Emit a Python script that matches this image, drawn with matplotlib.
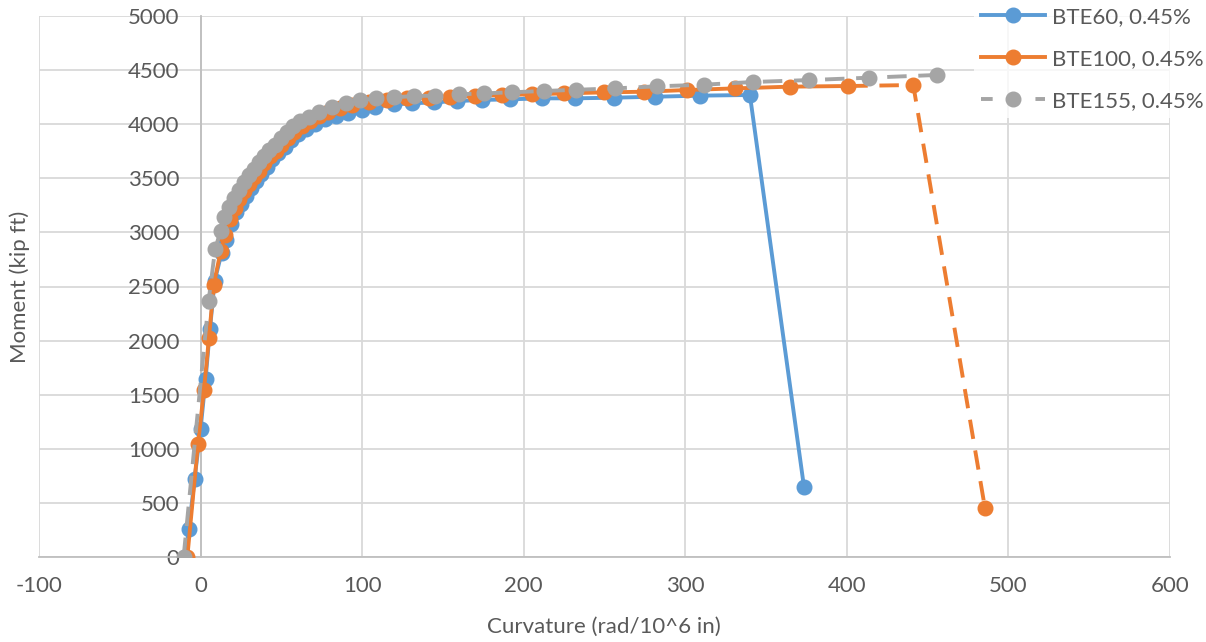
import matplotlib
matplotlib.use("Agg")
import matplotlib.pyplot as plt
from matplotlib.lines import Line2D

plt.rcParams['font.family'] = ['Lato', 'DejaVu Sans']
plt.rcParams['axes.unicode_minus'] = False

# --- data ---
bte60_x = [-9.5, -7.2, -3.7, 0.0, 3.1, 5.8, 8.7, 13.0, 16.0, 19.0, 22.0, 25.0, 28.0, 31.0, 34.0,
           37.5, 41.0, 44.5, 48.0, 52.0, 56.0, 60.5, 65.5, 71.0, 77.0, 84.0, 91.5, 100.0, 108.2,
           119.5, 131.0, 144.3, 158.7, 174.2, 191.7, 211.3, 231.5, 255.6, 281.4, 309.2, 340.0, 373.5]
bte60_y = [0, 261, 722, 1182, 1643, 2104, 2549, 2810, 2930, 3075, 3185, 3263, 3335, 3408, 3472,
           3540, 3608, 3675, 3730, 3788, 3850, 3910, 3960, 4005, 4045, 4080, 4105, 4128, 4162,
           4183, 4193, 4202, 4214, 4224, 4230, 4239, 4239, 4245, 4254, 4264, 4270, 644]

bte100_x = [-8.2, -1.6, 2.1, 5.2, 8.2, 12.4, 15.0, 18.0, 21.0, 24.0, 27.0, 30.0, 33.0, 36.0, 39.5,
            43.0, 46.5, 50.0, 54.0, 58.0, 62.5, 67.5, 73.0, 79.0, 86.0, 94.0, 104.0, 115.3, 127.8,
            141.2, 154.6, 170.0, 186.6, 205.0, 224.7, 249.5, 274.2, 301.0, 330.9, 364.9, 400.9,
            441.1, 485.5]
bte100_y = [0, 1044, 1542, 2027, 2518, 2826, 2980, 3125, 3230, 3305, 3380, 3450, 3512, 3572, 3638,
            3705, 3755, 3810, 3872, 3928, 3980, 4028, 4073, 4110, 4147, 4178, 4202, 4224, 4239,
            4245, 4254, 4260, 4270, 4276, 4285, 4294, 4300, 4316, 4331, 4347, 4353, 4362, 450]
bte100_dash_from = 40  # last two segments are dashed

bte155_x = [-10.5, 5.0, 9.0, 12.4, 14.8, 17.5, 20.6, 23.7, 26.8, 29.9, 33.0, 36.1, 39.1, 42.2,
            45.8, 49.5, 53.6, 57.5, 61.8, 67.0, 73.2, 81.4, 89.7, 98.9, 108.8, 119.5, 131.9, 145.3,
            159.7, 175.6, 192.7, 212.3, 232.5, 256.6, 282.4, 311.3, 341.8, 376.8, 414.0, 455.6]
bte155_y = [0, 2370, 2845, 3015, 3140, 3235, 3315, 3390, 3465, 3530, 3590, 3650, 3710, 3760,
            3810, 3870, 3930, 3980, 4025, 4070, 4115, 4160, 4195, 4222, 4239, 4248, 4260, 4264,
            4276, 4285, 4295, 4307, 4318, 4331, 4350, 4365, 4390, 4408, 4430, 4455]

labels = ["BTE60, 0.45%", "BTE100, 0.45%", "BTE155, 0.45%"]
colors = ["#5B9BD5", "#ED7D31", "#A5A5A5"]

W, H = 1206, 642
fig = plt.figure(figsize=(W / 100, H / 100), dpi=100)
ax = fig.add_axes([39 / W, 1 - 557 / H, (1170 - 39) / W, (557 - 16) / H])

lw = 2.8
ms = 10.5
dash = (5, 3)

# BTE60 - solid
ax.plot(bte60_x, bte60_y, '-', color=colors[0], lw=lw, zorder=3)
ax.plot(bte60_x, bte60_y, 'o', color=colors[0], ms=ms, zorder=3.1)

# BTE100 - solid then dashed tail
k = bte100_dash_from
ax.plot(bte100_x[:k + 1], bte100_y[:k + 1], '-', color=colors[1], lw=lw, zorder=4)
ax.plot(bte100_x[k:], bte100_y[k:], '--', color=colors[1], lw=lw, dashes=dash, zorder=4)
ax.plot(bte100_x, bte100_y, 'o', color=colors[1], ms=ms, zorder=4.1)

# BTE155 - dashed
ax.plot(bte155_x, bte155_y, '--', color=colors[2], lw=lw, dashes=dash, zorder=5)
ax.plot(bte155_x, bte155_y, 'o', color=colors[2], ms=ms, zorder=5.1)

ax.set_xlim(-100, 600)
ax.set_ylim(0, 5000)
ax.set_xticks(range(-100, 601, 100))
ax.set_yticks(range(0, 5001, 500))
ax.grid(True, color='#d9d9d9', lw=1.3)
ax.set_axisbelow(True)

for s in ['top', 'right']:
    ax.spines[s].set_visible(False)
ax.spines['left'].set_position(('data', 0))
ax.spines['left'].set_color('#bfbfbf')
ax.spines['left'].set_linewidth(1.3)
ax.spines['bottom'].set_color('#bfbfbf')
ax.spines['bottom'].set_linewidth(1.3)

ax.tick_params(axis='both', length=0, labelsize=16, labelcolor='#595959')
ax.tick_params(axis='x', pad=14)
ax.tick_params(axis='y', pad=15)

fig.text(20 / W, 1 - 287 / H, "Moment (kip ft)", rotation=90, ha='center', va='center',
         fontsize=16, color='#595959')
fig.text(604 / W, 1 - 627 / H, "Curvature (rad/10^6 in)", ha='center', va='center',
         fontsize=16, color='#595959')

handles = [
    Line2D([], [], color=colors[0], lw=lw, marker='o', ms=ms),
    Line2D([], [], color=colors[1], lw=lw, marker='o', ms=ms),
    Line2D([], [], color=colors[2], lw=lw, marker='o', ms=ms, ls='--', dashes=(3, 4)),
]
leg = fig.legend(handles, labels, loc='upper left', bbox_to_anchor=(974 / W, 1.0),
                 fontsize=16, frameon=True, fancybox=False, handlelength=2.9,
                 handletextpad=0.3, labelspacing=1.0, borderpad=0.3, borderaxespad=0)
leg.get_frame().set_facecolor('white')
leg.get_frame().set_edgecolor('none')
for t in leg.get_texts():
    t.set_color('#595959')

fig.savefig("out.png", dpi=100)
